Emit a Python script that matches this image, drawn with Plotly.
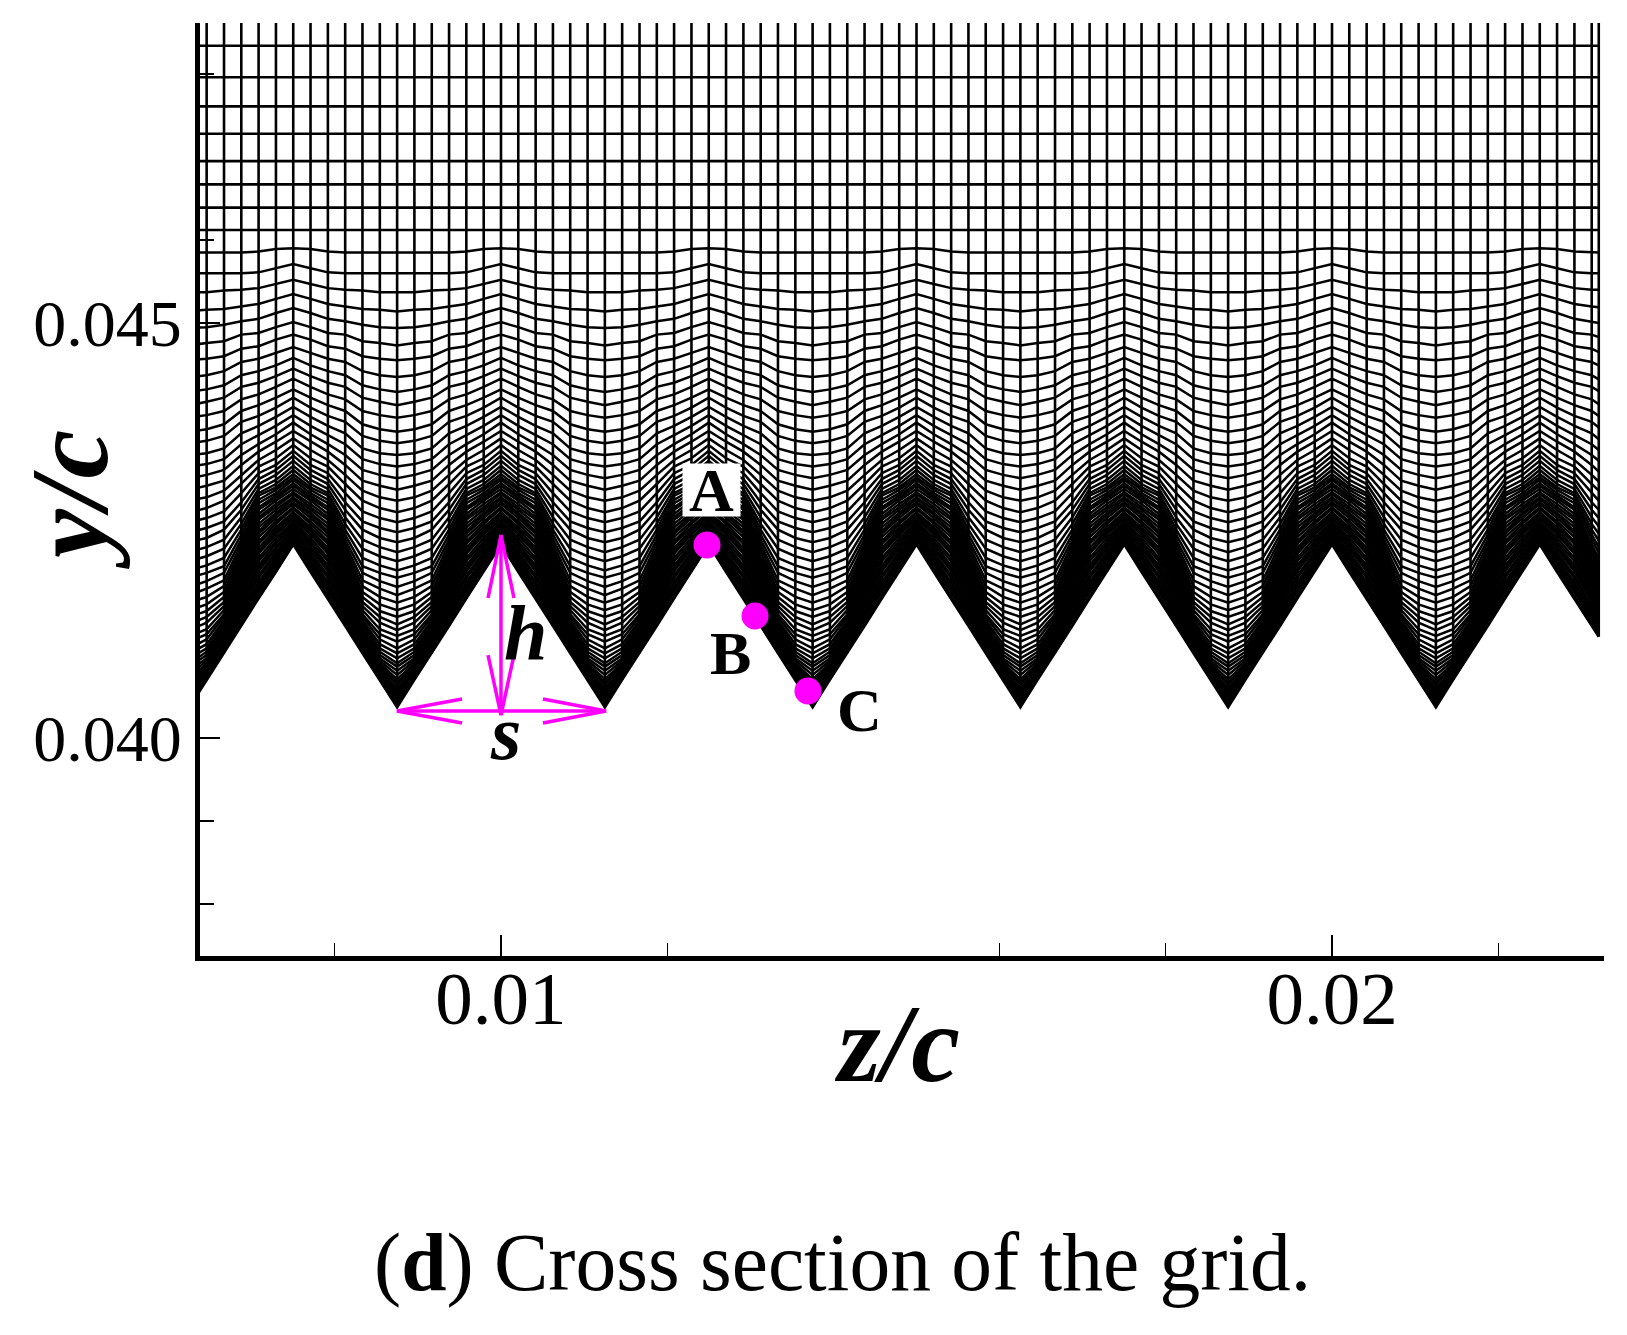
import plotly.graph_objects as go

Y_UNIT = 1e-5
FONT = "Liberation Serif"
MAGENTA = "#ff00ff"

# horizontal mesh lines above the wall-fitted part
y_flat = [4834, 4796, 4761, 4728, 4695, 4667, 4639, 4612]

# wall-fitted mesh lines, one list per column going from the tooth tip to the valley
# each list runs from the outermost line down to the wall
y_col_tip = [4590, 4571, 4552, 4535, 4518, 4501, 4486, 4471, 4458, 4445, 4433, 4420, 4410, 4399, 4389,
             4380, 4370, 4361, 4353, 4346, 4340, 4334, 4328, 4323, 4318, 4314, 4311, 4307, 4304, 4300,
             4296, 4294, 4290, 4288, 4284, 4282, 4278, 4276, 4272, 4270, 4267, 4264, 4261, 4259, 4257,
             4254, 4252, 4249, 4247, 4245, 4242, 4240, 4237, 4235, 4233]
y_col_1 = [4589, 4566, 4547, 4529, 4512, 4495, 4480, 4464, 4449, 4436, 4423, 4410, 4398, 4387, 4376,
           4366, 4357, 4347, 4337, 4329, 4323, 4317, 4311, 4306, 4302, 4299, 4295, 4292, 4289, 4286,
           4282, 4278, 4275, 4271, 4269, 4265, 4261, 4258, 4254, 4251, 4248, 4245, 4241, 4237, 4234,
           4230, 4228, 4224, 4220, 4217, 4213, 4210, 4207, 4204, 4200]
y_col_2 = [4586, 4561, 4542, 4523, 4505, 4488, 4472, 4457, 4442, 4428, 4414, 4401, 4388, 4376, 4365,
           4354, 4345, 4335, 4327, 4319, 4312, 4306, 4300, 4295, 4292, 4287, 4283, 4278, 4275, 4270,
           4266, 4263, 4258, 4254, 4249, 4246, 4242, 4237, 4234, 4229, 4225, 4222, 4217, 4213, 4208,
           4205, 4201, 4196, 4193, 4188, 4184, 4180, 4176, 4171, 4168]
y_col_3 = [4585, 4560, 4540, 4520, 4502, 4486, 4469, 4453, 4437, 4423, 4408, 4394, 4381, 4367, 4354,
           4341, 4329, 4317, 4306, 4295, 4284, 4275, 4266, 4258, 4251, 4245, 4239, 4234, 4229, 4225,
           4222, 4218, 4214, 4211, 4207, 4204, 4200, 4196, 4193, 4189, 4186, 4182, 4178, 4175, 4171,
           4167, 4164, 4160, 4157, 4153, 4149, 4146, 4142, 4139, 4135]
y_col_4 = [4585, 4560, 4539, 4517, 4498, 4478, 4460, 4442, 4425, 4410, 4394, 4378, 4364, 4349, 4336,
           4323, 4310, 4298, 4286, 4273, 4261, 4251, 4239, 4228, 4217, 4207, 4199, 4190, 4183, 4176,
           4170, 4164, 4159, 4154, 4149, 4146, 4142, 4139, 4136, 4134, 4131, 4130, 4129, 4128, 4127,
           4124, 4122, 4119, 4117, 4114, 4112, 4110, 4107, 4105, 4102]
y_col_5 = [4585, 4560, 4537, 4516, 4495, 4476, 4457, 4437, 4420, 4405, 4389, 4372, 4358, 4343, 4330,
           4317, 4304, 4290, 4277, 4265, 4253, 4241, 4230, 4219, 4208, 4199, 4189, 4180, 4170, 4161,
           4153, 4146, 4139, 4131, 4125, 4119, 4113, 4108, 4104, 4100, 4096, 4093, 4090, 4088, 4086,
           4083, 4081, 4080, 4078, 4077, 4076, 4075, 4074, 4072, 4070]
y_col_valley = [4585, 4560, 4537, 4514, 4494, 4473, 4455, 4435, 4417, 4401, 4386, 4369, 4355, 4341, 4327,
                4313, 4299, 4286, 4272, 4260, 4248, 4236, 4224, 4213, 4202, 4193, 4182, 4172, 4163, 4154,
                4146, 4137, 4130, 4123, 4116, 4108, 4102, 4096, 4090, 4086, 4081, 4076, 4071, 4067, 4064,
                4060, 4057, 4054, 4052, 4049, 4047, 4045, 4042, 4040, 4037]
# the mesh stops part way down the last tooth
y_col_end = [4585, 4560, 4540, 4519, 4500, 4483, 4465, 4449, 4432, 4418, 4402, 4388, 4374, 4360, 4347,
             4334, 4321, 4309, 4298, 4286, 4275, 4265, 4255, 4246, 4238, 4230, 4223, 4216, 4210, 4205,
             4201, 4196, 4192, 4188, 4184, 4181, 4177, 4173, 4170, 4167, 4164, 4162, 4158, 4156, 4153,
             4149, 4147, 4144, 4141, 4137, 4134, 4132, 4128, 4125, 4122]

tooth_tips = [0.0075, 0.01, 0.0125, 0.015, 0.0175, 0.02, 0.0225]
col_offsets = [0, 0.000208, 0.000417, 0.000625, 0.000833, 0.001042, 0.00125]
z_mesh_end = 0.02321
y_mesh_top = 0.0487

# magenta dimension arrows and the three points on the wall
h_arrow_z = [0.009844, 0.01, 0.010156, None, 0.01, 0.01, None, 0.009844, 0.01, 0.010156]
h_arrow_y = [0.041687, 0.042446, 0.041687, None, 0.042446, 0.040277, None, 0.041, 0.040277, 0.041]
s_arrow_z = [0.009531, 0.008748, 0.009531, None, 0.008748, 0.011264, None, 0.010505, 0.011264, 0.010505]
s_arrow_y = [0.04047, 0.040325, 0.040181, None, 0.040325, 0.040325, None, 0.04047, 0.040325, 0.040181]
point_z = [0.012479, 0.013057, 0.013694]
point_y = [0.042325, 0.04147, 0.040566]

x_ticks = [0.01, 0.02]
x_tick_text = ["0.01", "0.02"]
x_minor = [0.008, 0.012, 0.016, 0.018, 0.022]
y_ticks = [0.04, 0.045]
y_tick_text = ["0.040", "0.045"]
y_minor = [0.038, 0.039, 0.046, 0.048]

columns = [y_col_tip, y_col_1, y_col_2, y_col_3, y_col_4, y_col_5, y_col_valley]

# one tooth runs valley -> tip -> valley, the valley column is shared with the next tooth
mesh_cols = []
for tip in tooth_tips:
    for i in range(6, 0, -1):
        mesh_cols.append((tip - col_offsets[i], columns[i]))
    for i in range(0, 6):
        mesh_cols.append((tip + col_offsets[i], columns[i]))
mesh_cols = [c for c in mesh_cols if c[0] <= tooth_tips[-1] + col_offsets[3]]
mesh_cols.append((z_mesh_end, y_col_end))
mesh_z = [c[0] for c in mesh_cols]

row_z, row_y = [], []
for k in range(len(y_col_tip)):
    for z, col in mesh_cols:
        row_z.append(z)
        row_y.append(col[k] * Y_UNIT)
    row_z.append(None)
    row_y.append(None)

frame_z, frame_y = [], []
for y_val in y_flat:
    frame_z += [mesh_z[0], mesh_z[-1], None]
    frame_y += [y_val * Y_UNIT, y_val * Y_UNIT, None]
for z, col in mesh_cols:
    frame_z += [z, z, None]
    frame_y += [col[-1] * Y_UNIT, y_mesh_top, None]

fig = go.Figure()
fig.add_trace(go.Scatter(x=row_z, y=row_y, mode="lines", line=dict(color="black", width=2.5), hoverinfo="skip"))
fig.add_trace(go.Scatter(x=frame_z, y=frame_y, mode="lines", line=dict(color="black", width=2.6), hoverinfo="skip"))
fig.add_trace(go.Scatter(x=h_arrow_z, y=h_arrow_y, mode="lines", line=dict(color=MAGENTA, width=3.5), hoverinfo="skip"))
fig.add_trace(go.Scatter(x=s_arrow_z, y=s_arrow_y, mode="lines", line=dict(color=MAGENTA, width=3.5), hoverinfo="skip"))
fig.add_trace(go.Scatter(x=point_z, y=point_y, mode="markers", marker=dict(color=MAGENTA, size=27)))

labels = [
    ("<b>A</b>", 0.012539, 0.042988, 62, dict(bgcolor="white", width=55, height=50)),
    ("<b>B</b>", 0.012756, 0.041024, 62, {}),
    ("<b>C</b>", 0.01432, 0.040337, 62, {}),
    ("<b><i>h</i></b>", 0.010289, 0.041277, 78, {}),
    ("<b><i>s</i></b>", 0.01005, 0.04007, 78, {}),
]
for text, z, y, size, extra in labels:
    fig.add_annotation(x=z, y=y, text=text, showarrow=False, font=dict(family=FONT, size=size, color="black"), **extra)

page_texts = [
    ("(<b>d</b>) Cross section of the grid.", 0.4575, -0.329, 81.5, 0),
    ("<b><i>z/c</i></b>", 0.4965, -0.0945, 110, 0),
    ("<b><i>y/c</i></b>", -0.0925, 0.489, 110, -90),
]
for text, x, y, size, angle in page_texts:
    fig.add_annotation(
        xref="paper", yref="paper", x=x, y=y, text=text, textangle=angle,
        xanchor="center", yanchor="middle", showarrow=False,
        font=dict(family=FONT, size=size, color="black"),
    )

fig.update_xaxes(
    range=[0.006378, 0.023273],
    tickmode="array", tickvals=x_ticks, ticktext=x_tick_text,
    ticks="inside", ticklen=21, tickwidth=2, tickcolor="black",
    tickfont=dict(family=FONT, size=75, color="black"),
    minor=dict(tickmode="array", tickvals=x_minor, ticks="inside", ticklen=13, tickwidth=1, tickcolor="black"),
    showline=True, linecolor="black", linewidth=5, showgrid=False, zeroline=False,
    layer="above traces", ticklabelstandoff=-27,
)
fig.update_yaxes(
    range=[0.037374, 0.048614],
    tickmode="array", tickvals=y_ticks, ticktext=y_tick_text,
    ticks="inside", ticklen=20, tickwidth=2, tickcolor="black",
    tickfont=dict(family=FONT, size=66, color="black"),
    minor=dict(tickmode="array", tickvals=y_minor, ticks="inside", ticklen=14, tickwidth=1.5, tickcolor="black"),
    showline=True, linecolor="black", linewidth=5, showgrid=False, zeroline=False,
    layer="above traces", ticklabelstandoff=0,
)
# the page body adds 8 px around the figure
fig.update_layout(
    width=1619,
    height=1327,
    margin=dict(l=192, r=23, t=15, b=379, autoexpand=False),
    paper_bgcolor="white",
    plot_bgcolor="white",
    showlegend=False,
)

fig.write_html("out.html")
